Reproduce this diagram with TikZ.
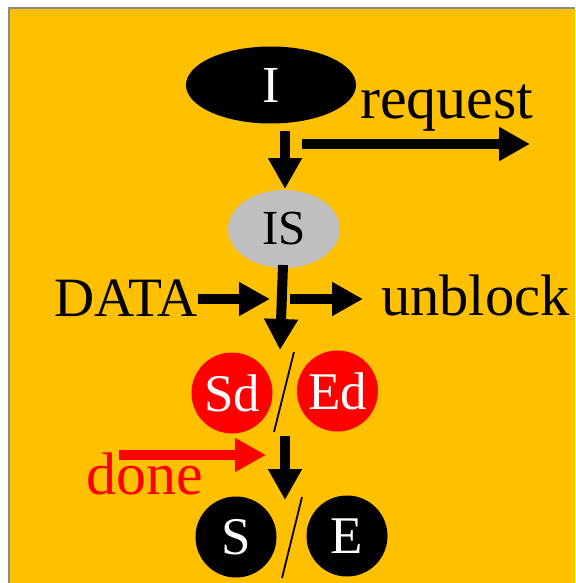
\documentclass[tikz,border=0pt]{standalone}
\usepackage{fontspec}
\setmainfont{Liberation Serif}
\usetikzlibrary{arrows.meta,shapes.geometric}
\definecolor{bgorange}{HTML}{FFC000}
\definecolor{frame}{HTML}{8C8C8C}
\definecolor{isgrey}{HTML}{BFBFBF}
\definecolor{hot}{HTML}{FF0000}

\begin{document}
\begin{tikzpicture}[x=1pt,y=-1pt,
  bigarrow/.style={line width=10pt,-{Triangle[length=31pt,width=32pt]}},
  state/.style={circle,inner sep=0pt,minimum size=81pt,font=\fontsize{53}{53}\selectfont,text=white},
  label/.style={inner sep=0pt,anchor=base west},
  sep/.style={line width=1.8pt}]
  % page and frame
  \useasboundingbox (0,0) rectangle (575,583);
  \fill[white] (0,0) rectangle (575,583);
  \fill[bgorange] (9,8) rectangle (575,583);
  \draw[frame,line width=2pt] (9,583) -- (9,8) -- (575,8);

  % states
  \node[ellipse,fill=black,inner sep=0pt,minimum width=170pt,minimum height=77pt,
        text=white,font=\fontsize{52}{52}\selectfont] (I) at (271,85) {I};
  \node[ellipse,fill=isgrey,inner sep=0pt,minimum width=112pt,minimum height=78pt,
        font=\fontsize{49}{49}\selectfont] (IS) at (284,229) {IS};
  \node[state,fill=hot] (Sd) at (232,393) {Sd};
  \node[state,fill=hot] (Ed) at (337.5,391) {Ed};
  \node[state,fill=black] (S) at (236,537) {S};
  \node[state,fill=black] (E) at (347,536) {E};

  % separators between alternative states
  \coordinate (sdA) at (294,352); \coordinate (sdB) at (274,432);
  \coordinate (seA) at (302,497); \coordinate (seB) at (282,578);
  \draw[sep] (sdA) -- (sdB);
  \draw[sep] (seA) -- (seB);

  % labels
  \node[label,font=\fontsize{60}{60}\selectfont] (req) at (360,119) {request};
  \node[label,font=\fontsize{55.5}{55.5}\selectfont] (data) at (54,316.5) {DATA};
  \node[label,font=\fontsize{58.5}{58.5}\selectfont] (unb) at (381,315.5) {unblock};
  \node[label,text=hot,font=\fontsize{60}{60}\selectfont] (done) at (86,494) {done};

  % arrow end points
  \coordinate (iOut) at (285,131);   \coordinate (isIn) at (285,189);
  \coordinate (rqOut) at (302,144);  \coordinate (rqEnd) at (530,144);
  \coordinate (isOut) at (283,265);  \coordinate (sdIn) at (280,350);
  \coordinate (dtOut) at (198,299);  \coordinate (dtIn) at (270,299);
  \coordinate (ubOut) at (290,299);  \coordinate (ubEnd) at (363,299);
  \coordinate (sdOut) at (285,436);  \coordinate (sIn) at (285,500);
  \coordinate (dnOut) at (119,455);  \coordinate (dnIn) at (266,455);

  % transitions
  \draw[bigarrow] (iOut) -- (isIn);
  \draw[bigarrow] (rqOut) -- (rqEnd);
  \draw[bigarrow] (isOut) -- (sdIn);
  \draw[bigarrow] (dtOut) -- (dtIn);
  \draw[bigarrow] (ubOut) -- (ubEnd);
  \draw[bigarrow] (sdOut) -- (sIn);
  \draw[bigarrow,hot] (dnOut) -- (dnIn);
\end{tikzpicture}
\end{document}
